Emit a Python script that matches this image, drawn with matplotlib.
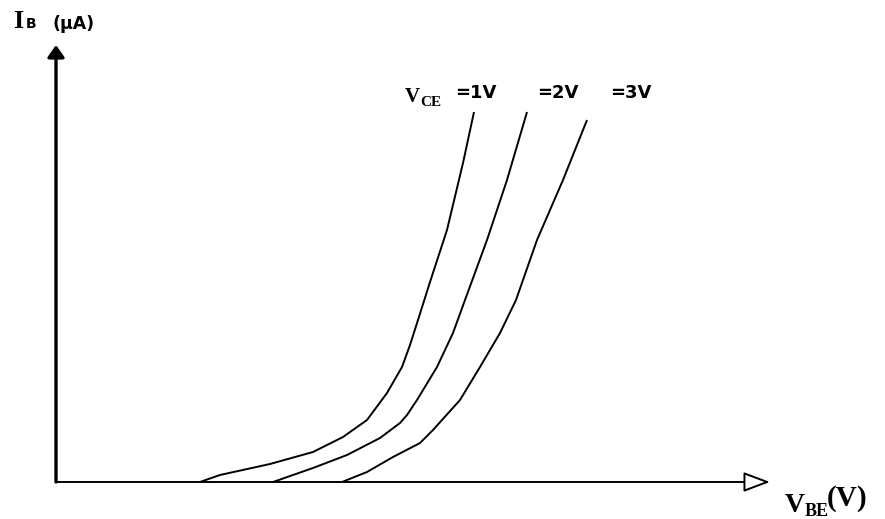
import matplotlib.pyplot as plt

# Eingangskennlinien I_B(V_BE) fuer V_CE = 1V, 2V, 3V
# (Einheit = Pixel ab dem Ursprung)
vbe_1 = [144, 164, 214, 257, 287, 311, 331, 346, 354, 362, 374, 391, 407, 418]
ib_1 = [0, 7, 18, 30, 45, 62, 89, 115, 137, 162, 200, 252, 319, 370]

vbe_2 = [217, 257, 291, 324, 344, 351, 361, 381, 397, 409, 431, 451, 471]
ib_2 = [0, 14, 27, 44, 59, 67, 82, 115, 149, 182, 242, 302, 370]

vbe_3 = [286, 311, 337, 364, 377, 404, 424, 444, 460, 481, 507, 531]
ib_3 = [0, 10, 25, 39, 52, 82, 115, 149, 182, 242, 302, 362]

kurven = [(vbe_1, ib_1), (vbe_2, ib_2), (vbe_3, ib_3)]
vce_labels = ['=1V', '=2V', '=3V']

x_max = 714   # Ende der V_BE-Achse
y_max = 437   # Ende der I_B-Achse

fig = plt.figure(figsize=(8.85, 5.19), dpi=100)
ax = fig.add_axes([0, 0, 1, 1])
ax.set_xlim(-56, 829)
ax.set_ylim(-37, 482)
ax.axis('off')

# Kennlinien
for vbe, ib in kurven:
    ax.plot(vbe, ib, color='black', lw=1.4, solid_capstyle='butt')

# Achsen mit Pfeilen
ax.annotate('', xy=(0, y_max), xytext=(0, 0),
            arrowprops=dict(arrowstyle='-|>,head_length=0.4,head_width=0.28',
                            lw=2.4, color='black', mutation_scale=18,
                            shrinkA=0, shrinkB=0))
ax.annotate('', xy=(x_max, 0), xytext=(0, 0),
            arrowprops=dict(arrowstyle='-|>,head_length=0.4,head_width=0.15',
                            lw=1.4, ec='black', fc='white', mutation_scale=41,
                            shrinkA=0, shrinkB=0))

serif = 'Liberation Serif'
sans = 'DejaVu Sans'

# Achsenbeschriftung I_B (uA)
ax.text(-43, 454, 'I', family=serif, weight='bold', fontsize=19, va='baseline')
ax.text(-30, 454, 'B', family=sans, weight='bold', fontsize=10, va='baseline')
ax.text(-4, 453, '(µA)', family=sans, weight='bold', fontsize=12.5, va='baseline')

# Achsenbeschriftung V_BE (V)
ax.text(729, -30, 'V', family=serif, weight='bold', fontsize=20, va='baseline')
ax.text(749, -34, 'BE', family=serif, weight='bold', fontsize=13, va='baseline')
ax.text(771, -24, '(V)', family=serif, weight='bold', fontsize=21, va='baseline')

# Parameter V_CE
ax.text(349, 380, 'V', family=serif, weight='bold', fontsize=15, va='baseline')
ax.text(364, 376, 'CE', family=serif, weight='bold', fontsize=11, va='baseline')
for x, lab in zip([399, 481, 554], vce_labels):
    ax.text(x, 384, lab, family=sans, weight='bold', fontsize=13, va='baseline')

fig.savefig('out.png', dpi=100)
